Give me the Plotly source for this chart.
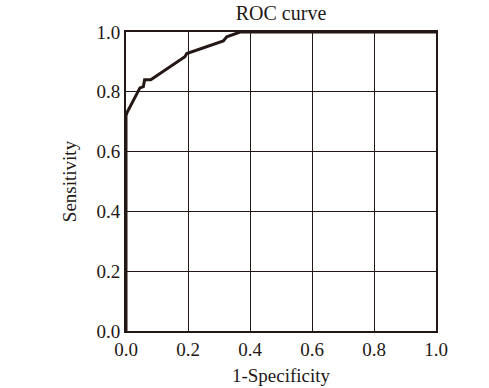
import plotly.graph_objects as go

fpr = [0.0, 0.0, 0.003, 0.045, 0.056, 0.06, 0.08, 0.19, 0.196, 0.314, 0.325, 0.368, 1.0]
tpr = [0.0, 0.72, 0.73, 0.813, 0.817, 0.84, 0.84, 0.917, 0.928, 0.97, 0.984, 1.0, 1.0]
ticks = [0.0, 0.2, 0.4, 0.6, 0.8, 1.0]
tick_text = ["0.0", "0.2", "0.4", "0.6", "0.8", "1.0"]

ink = "#231815"
font = "Liberation Serif, Times New Roman, serif"

fig = go.Figure()
fig.add_trace(go.Scatter(x=fpr, y=tpr, mode="lines", cliponaxis=False,
                         line=dict(color=ink, width=3), showlegend=False))

axis_common = dict(range=[0, 1], tickvals=ticks, ticktext=tick_text, automargin=False,
                   showgrid=True, gridcolor=ink, gridwidth=1,
                   showline=True, linecolor=ink, linewidth=2, mirror=True,
                   zeroline=False, ticks="", tickfont=dict(family=font, size=19, color=ink))

fig.update_layout(
    width=489, height=388,
    margin=dict(l=126, r=53, t=32, b=57),
    paper_bgcolor="white", plot_bgcolor="white",
    title=dict(text="ROC curve", x=(126 + 155) / 489, xanchor="center", y=1 - 12.5 / 388, yanchor="middle",
               font=dict(family=font, size=20, color=ink)),
    xaxis=dict(**axis_common, title=dict(text="1-Specificity", font=dict(family=font, size=19, color=ink), standoff=10)),
    yaxis=dict(**axis_common, title=dict(text="Sensitivity", font=dict(family=font, size=19, color=ink), standoff=15)),
)

fig.write_html("out.html", config={"displayModeBar": False},
               post_script="document.body.style.margin='0';document.body.style.overflow='hidden';")
